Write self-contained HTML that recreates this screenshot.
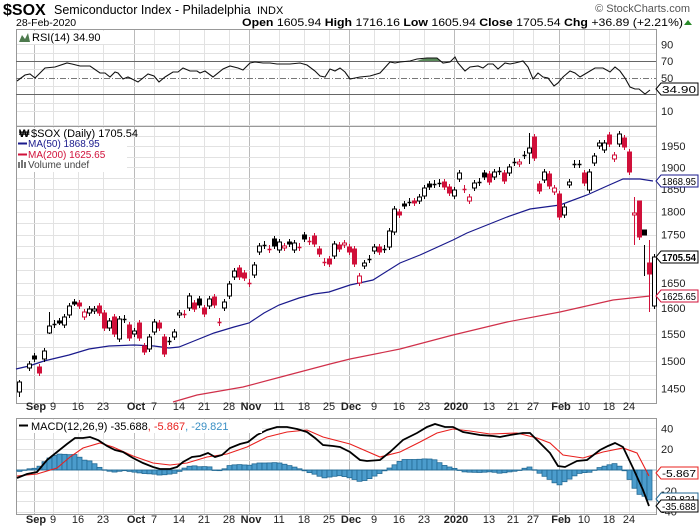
<!DOCTYPE html>
<html><head><meta charset="utf-8">
<style>
html,body{margin:0;padding:0;background:#fff;}
svg{display:block;font-family:"Liberation Sans",sans-serif;}
</style></head>
<body>
<svg id="s" width="700" height="530" viewBox="0 0 700 530" xmlns="http://www.w3.org/2000/svg">
<rect width="700" height="530" fill="#fff"/>
<g id="grid"></g>
<g id="content"></g>
<!-- header -->
<text x="3" y="15" font-size="16" font-weight="bold">$SOX</text>
<text x="54" y="14" font-size="12.5">Semiconductor Index - Philadelphia</text>
<text x="257" y="14" font-size="11">INDX</text>
<text x="16" y="26" font-size="10.5">28-Feb-2020</text>
<text x="690" y="12" font-size="11" fill="#555" text-anchor="end">© StockCharts.com</text>
<text x="683" y="26" font-size="11" text-anchor="end" textLength="441" lengthAdjust="spacingAndGlyphs"><tspan font-weight="bold">Open</tspan> 1605.94 <tspan font-weight="bold">High</tspan> 1716.16 <tspan font-weight="bold">Low</tspan> 1605.94 <tspan font-weight="bold">Close</tspan> 1705.54 <tspan font-weight="bold">Chg</tspan> +36.89 (+2.21%)</text>
<polygon points="684,25 692,25 688,20" fill="#2a8a2a"/>
</svg>
<script>
const NS="http://www.w3.org/2000/svg";
const G=document.getElementById('grid'),C=document.getElementById('content'),S=document.getElementById('s');
function el(p,t,a,txt){const e=document.createElementNS(NS,t);for(const k in a)e.setAttribute(k,a[k]);if(txt!==undefined)e.textContent=txt;p.appendChild(e);return e;}
const L=16,R=656;
const panels=[[29,126],[126,403],[418,514]];
const weeks=[[34,'Sep',1],[53,'9'],[78,'16'],[103,'23'],[134,'Oct',1],[154,'7'],[179,'14'],[204,'21'],[229,'28'],[249,'Nov',1],[279,'11'],[304,'18'],[329,'25'],[349,'Dec',1],[374,'9'],[399,'16'],[424,'23'],[454,'2020',1],[489,'13'],[513,'21'],[533,'27'],[559,'Feb',1],[584,'10'],[609,'18'],[629,'24']];
for(const p of panels){
  for(const w of weeks){el(G,'line',{x1:w[0]+.5,x2:w[0]+.5,y1:p[0],y2:p[1],stroke:w[2]?'#bbb':'#e2e2e2','stroke-width':1});}
}
function hl(y,col,dash){el(G,'line',{x1:L,x2:R,y1:Math.round(y)+.5,y2:Math.round(y)+.5,stroke:col,'stroke-width':1,'stroke-dasharray':dash||''});}
const rsiY=v=>119.4-0.833*v;
[90,80,60,40,20,10].forEach(v=>hl(rsiY(v),'#e2e2e2'));
const pY=p=>6350.4-819*Math.log(p);
for(let p=1450;p<=2000;p+=25)hl(pY(p),'#e2e2e2');
const mY=v=>470-1.04*v;
[40,30,20,10,-10,-20,-30,-40].forEach(v=>hl(mY(v),'#e2e2e2'));
for(const p of panels)el(G,'rect',{x:L+.5,y:p[0]+.5,width:R-L,height:p[1]-p[0],fill:'none',stroke:'#999'});
hl(rsiY(70),'#666');hl(rsiY(30),'#666');hl(rsiY(50),'#777','6,2,1,2');
const rsi=[[17,81],[25,75],[30,74],[35,78],[45,68],[55,67],[67,63],[72,64],[80,66],[90,66],[100,73],[105,73],[110,77],[115,72],[118,73],[123,79],[128,77],[138,82],[148,74],[154,76],[159,82],[165,77],[173,72],[178,72],[183,68],[190,71],[197,71],[200,73],[205,71],[213,77],[223,69],[230,66],[238,68],[243,70],[250,63],[255,62],[263,63],[270,63],[277,64],[290,64],[300,63],[307,65],[315,71],[320,76],[325,77],[330,69],[335,71],[340,68],[345,72],[350,79],[360,77],[370,76],[380,73],[390,62],[395,63],[400,62],[410,61],[417,59],[427,58],[437,58],[443,63],[450,62],[455,57],[458,63],[465,71],[470,67],[478,66],[483,68],[488,64],[493,64],[498,69],[505,63],[510,64],[515,63],[523,61],[528,67],[533,79],[538,73],[543,77],[548,78],[554,86],[558,83],[563,77],[570,71],[575,73],[580,77],[585,74],[595,68],[603,68],[610,72],[615,67],[620,71],[625,78],[630,87],[635,89],[639,89],[645,94],[650,90]];
el(C,'polygon',{points:'417,61 422,59.3 427,58.3 437,58.3 441,61',fill:'#5a8a5a'});
el(C,'polyline',{points:rsi.map(p=>p.join(',')).join(' '),fill:'none',stroke:'#111','stroke-width':1.1});
const ma50=[[16,369],[29,366],[44,361],[69,355],[89,349],[109,346],[134,345],[154,346],[169,348],[179,347],[194,341],[214,333],[234,327],[249,323],[264,313],[279,305],[299,298],[314,294],[329,292],[350,285],[373,280],[400,263],[420,255],[453,240],[467,233],[507,217],[530,209],[560,205],[587,195],[607,186],[623,179],[640,179],[653,181]];
const ma200=[[173,402],[197,395],[243,387],[277,378],[330,364],[350,359],[400,349],[453,335],[507,322],[560,312],[613,300],[650,296]];
el(C,'polyline',{points:ma50.map(p=>p.join(',')).join(' '),fill:'none',stroke:'#1a1a8c','stroke-width':1.2});
el(C,'polyline',{points:ma200.map(p=>p.join(',')).join(' '),fill:'none',stroke:'#d0304a','stroke-width':1.2});
const cd=[['h',382,392],null,['h',364,368],['b',356,359],['r',367,373],['h',351,359],['h',326,333],['c',324,324],['b',321,322],['h',317,325],['h',306,315],['b',302,303],['r',303,306],['p',312,317],['h',309,313],['h',309,311],['r',306,313],['r',313,328],['h',321,328],['r',317,334],['h',319,339],['c',319,319],['r',325,338],['h',331,334],['r',323,338],['r',346,352],['h',337,349],['h',322,332],['r',323,328],['r',337,354],['c',341,341],['h',332,337],['h',313,315],['q',314,314],['h',296,308],['r',303,309],['b',299,305],['r',308,314],['h',299,306],['r',297,305],['q',322,322],['h',302,308],['h',284,296],['h',271,277],['r',268,277],['r',273,278],['q',283,283],['h',265,275],['h',246,252],['c',245,245],['q',249,249],['b',239,246],['h',242,250],['p',246,248],['b',242,244],['h',243,250],['q',247,247],['b',235,239],['q',241,241],['r',236,244],['r',249,254],['q',262,262],['r',259,264],['h',244,256],['r',245,249],['p',243,245],['r',247,252],['r',249,264],['p',276,283],['h',263,266],['c',259,259],['h',247,251],['r',247,252],['c',249,249],['h',231,247],['h',209,232],['r',212,215],['b',204,206],['c',202,202],['r',201,203],['h',197,201],['h',188,196],['b',184,187],['c',184,184],['c',183,183],['r',182,187],['r',187,193],['h',190,196],['h',173,179],['q',189,189],['p',197,201],['h',183,188],['c',182,182],['b',173,177],['r',174,182],['h',172,177],['c',171,171],['r',173,181],['h',167,173],['c',162,162],['p',162,164],['c',155,155],['h',148,153],['r',137,158],['r',184,191],['h',172,180],['r',174,186],['p',188,192],['r',194,217],['h',207,215],['h',182,185],['c',164,164],['c',164,164],['r',173,183],['h',172,190],['h',156,163],['h',143,146],['h',143,150],['r',135,144],['p',155,159],['h',134,144],['r',138,147],['r',152,172],['p',213,215],['r',201,237],['b',230,235],['r',263,274],['h',257,306]];
const wickExtra={126:[240,312],125:[245,276],123:[197,245],124:[218,240],102:[133,164],0:[380,397],6:[312,334]};
cd.forEach((c,i)=>{
  if(!c)return;const x=19+5*i;const[t,a,b]=c;
  const red=(t==='r'||t==='p'||t==='q');const col=red?'#d0103a':'#000';
  let wt=a-3,wb=b+3;if(t==='c'||t==='q'){wt=a-4;wb=b+4;}
  if(wickExtra[i]){wt=wickExtra[i][0];wb=wickExtra[i][1];}
  el(C,'line',{x1:x+.5,x2:x+.5,y1:wt,y2:wb,stroke:col,'stroke-width':1});
  if(t==='c'||t==='q'){el(C,'line',{x1:x-1.5,x2:x+2.5,y1:a+.5,y2:a+.5,stroke:col,'stroke-width':1.5});return;}
  const fill=(t==='r')?'#d0103a':(t==='b')?'#000':'#fff';
  el(C,'rect',{x:x-1.5,y:a,width:4,height:Math.max(b-a,2),fill:fill,stroke:col,'stroke-width':1});
});
const macd=[[17,478],[27,474],[37,472],[47,460],[57,452],[67,444],[75,438],[83,438],[90,437],[98,440],[107,446],[115,450],[123,452],[133,458],[143,463],[153,467],[160,469],[170,469],[177,467],[183,462],[192,457],[200,456],[208,453],[215,457],[222,455],[230,448],[240,444],[248,442],[257,435],[267,430],[277,427],[287,427],[297,429],[307,432],[315,438],[323,445],[333,446],[340,447],[350,452],[360,460],[367,461],[380,460],[390,452],[403,440],[417,433],[427,427],[435,424],[445,427],[453,427],[463,432],[480,435],[493,436],[500,437],[510,435],[523,433],[530,433],[537,440],[550,453],[558,466],[565,467],[577,461],[587,460],[600,450],[608,446],[615,443],[623,447],[633,468],[643,490],[649,506]];
const sig=[[17,476],[37,474],[57,468],[70,457],[83,448],[100,443],[113,447],[133,456],[153,463],[170,465],[187,463],[207,457],[227,454],[247,447],[267,437],[287,432],[307,430],[323,437],[350,444],[380,457],[400,452],[420,442],[437,433],[453,429],[470,431],[490,434],[517,433],[537,438],[550,443],[563,455],[583,458],[603,452],[623,448],[637,453],[649,476]];
function interp(a,x){if(x<=a[0][0])return a[0][1];for(let i=1;i<a.length;i++){if(x<=a[i][0]){const t=(x-a[i-1][0])/(a[i][0]-a[i-1][0]);return a[i-1][1]+t*(a[i][1]-a[i-1][1]);}}return a[a.length-1][1];}
for(let i=0;i<127;i++){const x=19+5*i;const h=interp(macd,x)-interp(sig,x);const y=470+h;
  el(C,'rect',{x:x-2,y:Math.min(470,y),width:5,height:Math.max(Math.abs(h),0.5),fill:'#4b9ccc',stroke:'#236a94','stroke-width':0.8});}
el(C,'line',{x1:L,x2:R,y1:470,y2:470,stroke:'#236a94','stroke-width':0.6});
el(C,'polyline',{points:sig.map(p=>p.join(',')).join(' '),fill:'none',stroke:'#e8201e','stroke-width':1.1});
el(C,'polyline',{points:macd.map(p=>p.join(',')).join(' '),fill:'none',stroke:'#000','stroke-width':1.8});
for(const yy of [410,523]){for(const w of weeks){el(C,'text',{x:w[0]+(w[2]?2:0),y:yy,'font-size':'11','font-weight':w[2]?'bold':'normal','text-anchor':'middle',fill:'#222'},w[1]);}}
function ax(y,t){el(C,'text',{x:661,y:y+4,'font-size':'11',fill:'#222'},t);}
[[90,'90'],[70,'70'],[50,'50'],[10,'10']].forEach(v=>ax(rsiY(v[0]),v[1]));
[1950,1900,1850,1800,1750,1650,1600,1550,1500,1450].forEach(p=>ax(pY(p),String(p)));
[[40,'40'],[20,'20'],[0,'0'],[-20,'-20'],[-40,'-40']].forEach(v=>ax(mY(v[0]),v[1]));
function tag(y,t,col,bold){el(C,'polygon',{points:`656,${y} 661,${y-6} 698,${y-6} 698,${y+6} 661,${y+6}`,fill:'#fff',stroke:col,'stroke-width':1});
 el(C,'text',{x:662,y:y+4,'font-size':'10.5','font-weight':bold?'bold':'normal',fill:'#000',textLength:'34',lengthAdjust:'spacingAndGlyphs'},t);}
tag(89,'34.90','#000');
tag(181,'1868.95','#1a1a8c');
tag(257,'1705.54','#000',1);
tag(296,'1625.65','#d0103a');
tag(473,'-5.867','#e8201e');
tag(499,'-29.821','#236a94');
tag(506,'-35.688','#000');
el(C,'rect',{x:17,y:31,width:90,height:13,fill:'#fff'});
el(C,'polygon',{points:'19,42 22,35 25,39 28,33 30,42',fill:'#4d7a4d'});
el(C,'text',{x:32,y:41,'font-size':'11',fill:'#000'},'RSI(14) 34.90');
el(C,'rect',{x:17,y:128,width:110,height:44,fill:'#fff'});
el(C,'text',{x:19,y:137,'font-size':'11','font-weight':'bold'},'₩');
el(C,'text',{x:31,y:137,'font-size':'11'},'$SOX (Daily) 1705.54');
el(C,'line',{x1:18,x2:27,y1:143.5,y2:143.5,stroke:'#1a1a8c','stroke-width':2});
el(C,'text',{x:28,y:147,'font-size':'10','fill':'#1a1a8c'},'MA(50) 1868.95');
el(C,'line',{x1:18,x2:27,y1:154.5,y2:154.5,stroke:'#d0103a','stroke-width':2});
el(C,'text',{x:28,y:158,'font-size':'10','fill':'#d0103a'},'MA(200) 1625.65');
el(C,'rect',{x:18,y:162,width:2,height:6,fill:'#777'});el(C,'rect',{x:21,y:160,width:2,height:8,fill:'#777'});el(C,'rect',{x:24,y:162,width:2,height:6,fill:'#777'});
el(C,'text',{x:28,y:168,'font-size':'10','fill':'#444'},'Volume undef');
el(C,'rect',{x:17,y:420,width:245,height:13,fill:'#fff'});
el(C,'line',{x1:19,x2:28,y1:425.5,y2:425.5,stroke:'#000','stroke-width':2});
const mt=el(C,'text',{x:31,y:430,'font-size':'11'});
el(mt,'tspan',{fill:'#000'},'MACD(12,26,9) -35.688');el(mt,'tspan',{fill:'#e8201e'},', -5.867');el(mt,'tspan',{fill:'#3a8fc4'},', -29.821');
</script>
</body></html>
